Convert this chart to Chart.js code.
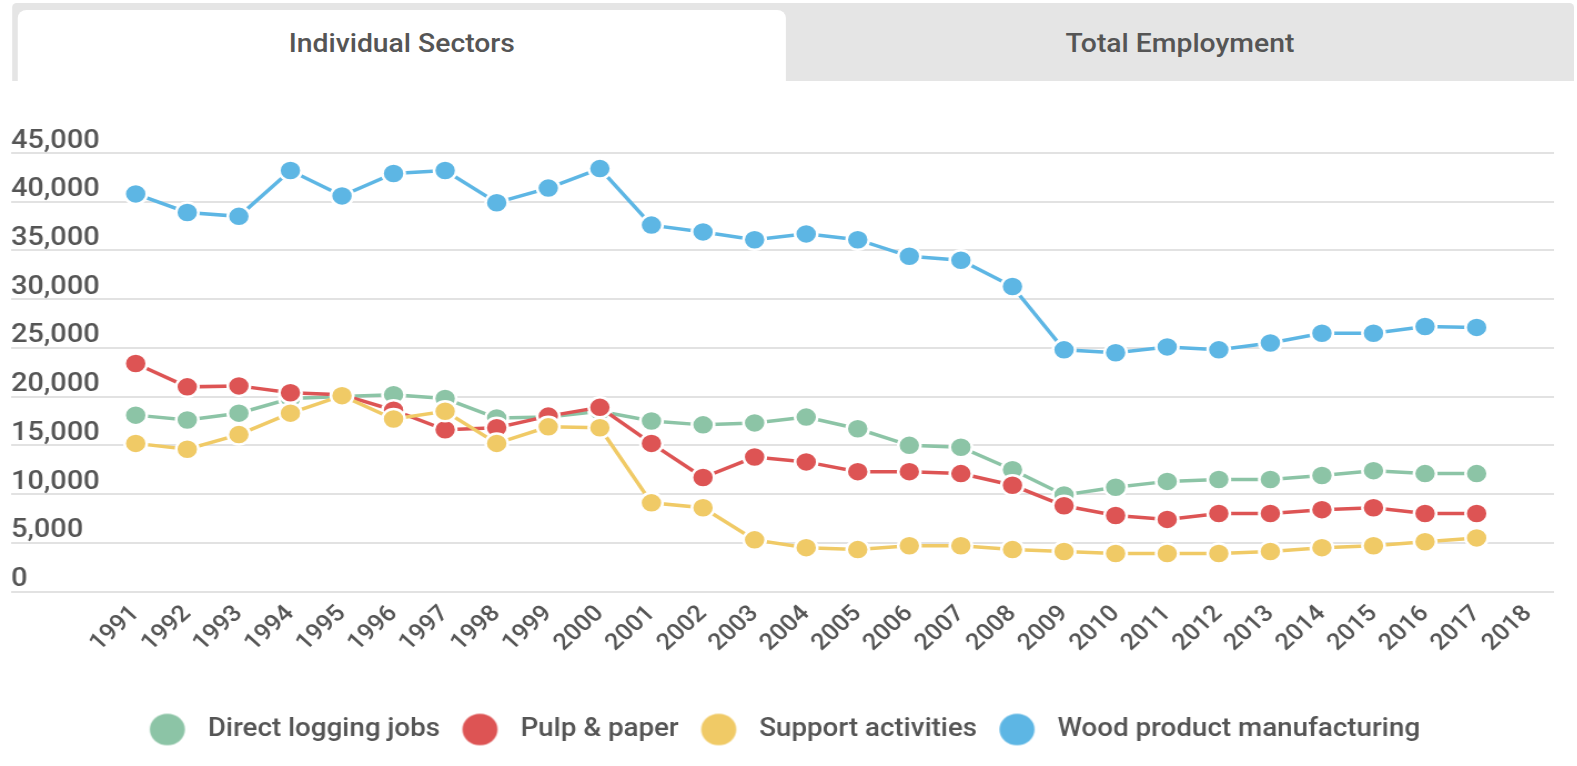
<!DOCTYPE html>
<html>
<head>
<meta charset="utf-8">
<script src="https://cdn.jsdelivr.net/npm/chart.js@4.4.0/dist/chart.umd.min.js"></script>
<style>
html,body{margin:0;padding:0;background:#fff;overflow:hidden;width:1577px;height:766px;}
#page{position:absolute;left:0;top:0;width:1421px;height:766px;transform:scaleX(1.11);transform-origin:0 0;font-family:Roboto,sans-serif;}
#chartBox{position:absolute;left:0;top:0;width:1421px;height:766px;}
#tabs{position:absolute;left:11px;top:3px;width:1407px;height:78px;background:#e5e5e5;border-radius:4px 4px 0 0;z-index:2;}
.tab{position:absolute;top:7px;height:71px;line-height:66px;text-align:center;font-size:25.5px;font-weight:500;color:#555;}
#t1{left:5px;width:692px;background:#fff;border-radius:8px 8px 0 0;}
#t2{left:697px;width:710px;}
</style>
</head>
<body>
<div id="page">
  <div id="chartBox"><canvas id="c"></canvas></div>
  <div id="tabs">
    <div class="tab" id="t1">Individual Sectors</div>
    <div class="tab" id="t2">Total Employment</div>
  </div>
</div>
<script>
const years = ['1991','1992','1993','1994','1995','1996','1997','1998','1999','2000','2001','2002','2003','2004','2005','2006','2007','2008','2009','2010','2011','2012','2013','2014','2015','2016','2017','2018'];
const seriesNames = ['Direct logging jobs','Pulp & paper','Support activities','Wood product manufacturing'];
const directLogging = [18100,17600,18300,19800,20000,20200,19800,17800,17900,18500,17500,17100,17300,17900,16700,15000,14800,12500,9900,10700,11300,11500,11500,11900,12400,12100,12100];
const pulpPaper = [23400,21000,21100,20400,20200,18600,16600,16800,18000,18900,15200,11700,13800,13300,12300,12300,12100,10900,8800,7800,7400,8000,8000,8400,8600,8000,8000];
const supportActivities = [15200,14600,16100,18300,20100,17700,18500,15200,16900,16800,9100,8600,5300,4500,4300,4700,4700,4300,4100,3900,3900,3900,4100,4500,4700,5100,5500];
const woodProducts = [40800,38900,38500,43200,40600,42900,43200,39900,41400,43400,37600,36900,36100,36700,36100,34400,34000,31300,24800,24500,25100,24800,25500,26500,26500,27200,27100];
const yTicks = [0,5000,10000,15000,20000,25000,30000,35000,40000,45000];
const colors = ['#8cc4a6','#dd5454','#f0ca66','#5db6e4'];
const drawOrder = [2,1,0,3];

function legendDot(color){
  const c = document.createElement('canvas');
  c.width = 44; c.height = 34;
  const g = c.getContext('2d');
  g.fillStyle = color;
  g.beginPath(); g.arc(20,17,15.8,0,Math.PI*2); g.fill();
  return c;
}
const dots = colors.map(legendDot);

function build(){
  Chart.defaults.font.family = 'Roboto';
  Chart.defaults.font.weight = '500';
  const dataArrays = [directLogging,pulpPaper,supportActivities,woodProducts];
  const datasets = dataArrays.map((d,i)=>({
    label: seriesNames[i],
    data: d,
    borderColor: colors[i],
    backgroundColor: colors[i],
    pointBackgroundColor: colors[i],
    pointBorderColor: '#ffffff',
    pointBorderWidth: 2.5,
    pointRadius: 10,
    pointHoverRadius: 10,
    borderWidth: 3.5,
    tension: 0,
    order: drawOrder[i]
  }));
  new Chart(document.getElementById('c'), {
    type: 'line',
    data: { labels: years, datasets },
    options: {
      responsive: true,
      maintainAspectRatio: false,
      animation: false,
      layout: { padding: { left: 10, right: 21, top: 153, bottom: 14 } },
      plugins: {
        tooltip: { enabled: false },
        legend: {
          position: 'bottom',
          labels: {
            usePointStyle: true,
            pointStyleWidth: 44,
            padding: 16,
            color: '#555',
            font: { size: 25, weight: '500' },
            sort: (a,b) => a.datasetIndex - b.datasetIndex,
            generateLabels(chart){
              const items = Chart.defaults.plugins.legend.labels.generateLabels(chart);
              items.forEach((it)=>{ it.pointStyle = dots[it.datasetIndex]; });
              return items;
            }
          }
        }
      },
      scales: {
        x: {
          type: 'category',
          offset: true,
          grid: { display: false },
          border: { display: false },
          ticks: { color: '#555', font: { size: 23, weight: '500' }, maxRotation: 45, minRotation: 45, autoSkip: false, padding: 1, labelOffset: 0 },
          afterFit(s){ s.height = 109.5; }
        },
        y: {
          min: 0, max: 45000,
          grid: { color: '#e2e2e2', lineWidth: 2, drawTicks: true, tickLength: 89 },
          border: { display: false },
          ticks: { stepSize: 5000, color: '#555', font: { size: 26, weight: '500' }, crossAlign: 'far', labelOffset: -12,
                   callback: v => v.toLocaleString('en-US') },
          afterBuildTicks(s){ s.ticks = yTicks.map(v=>({value:v})); },
          afterFit(s){ s.width = 89; }
        }
      }
    }
  });
}
if (document.fonts && document.fonts.load) {
  Promise.all([document.fonts.load('500 25px Roboto'), document.fonts.load('25px Roboto')]).then(build, build);
} else { build(); }
</script>
</body>
</html>
